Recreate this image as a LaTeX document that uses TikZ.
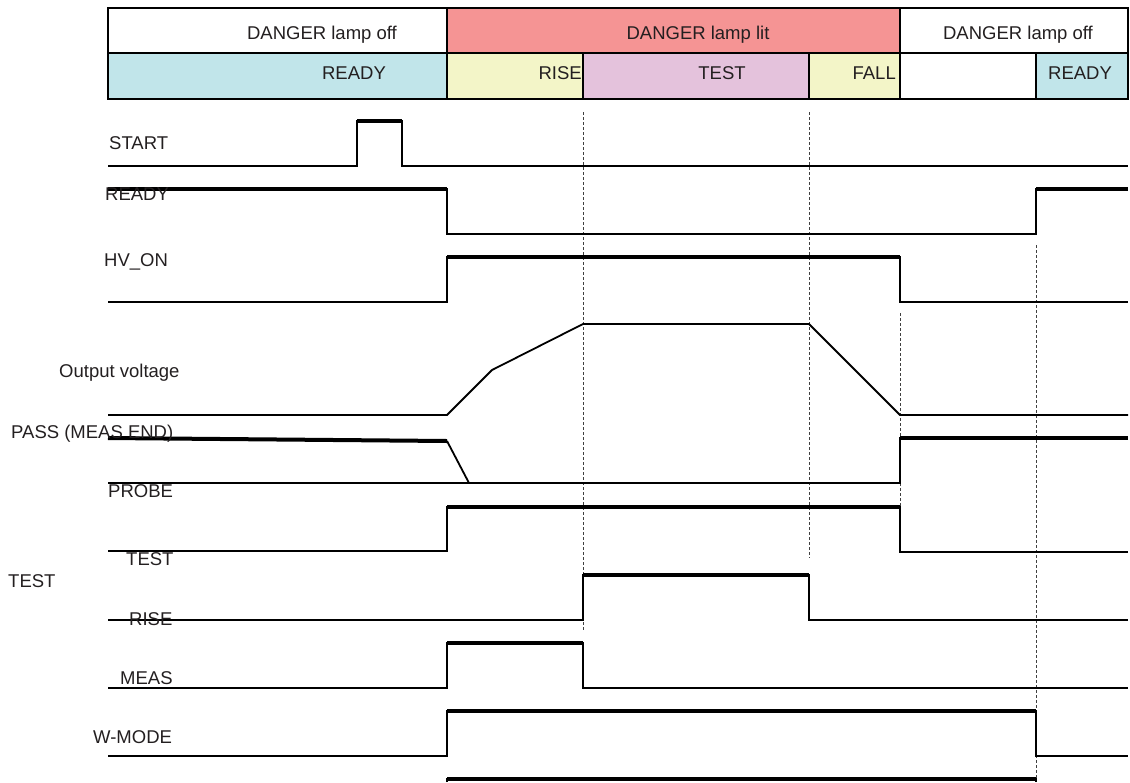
\documentclass[tikz,border=0pt]{standalone}
\usepackage{fontspec}
\setmainfont{Liberation Sans}
\definecolor{lampred}{HTML}{F59494}
\definecolor{readyblue}{HTML}{C1E5EA}
\definecolor{rampyellow}{HTML}{F3F5C8}
\definecolor{testpink}{HTML}{E4C2DC}
\definecolor{inkgray}{HTML}{231F20}

\begin{document}
\begin{tikzpicture}[
		x=1pt, y=-1pt,
		cell/.style={draw, line width=2pt},
		hdrtext/.style={font=\fontsize{18.5}{22}\selectfont, text=inkgray, anchor=base, inner sep=0pt},
		siglabel/.style={font=\fontsize{18.5}{22}\selectfont, text=inkgray, anchor=base west, inner sep=0pt},
		sig/.style={line width=1.8pt},
		hilevel/.style={line width=4pt},
		guide/.style={line width=0.8pt, black!75, dash pattern=on 3pt off 2pt}
	]

	\useasboundingbox (0,0) rectangle (1130,782);

	% Lamp state row
	\foreach \xa/\xb/\col in {
			108/447/white,
			447/900/lampred,
			900/1128/white} {
			\draw[cell, fill=\col] (\xa,8) rectangle (\xb,53);
		}

	% Phase row
	\foreach \xa/\xb/\col in {
			108/447/readyblue,
			447/583/rampyellow,
			583/809/testpink,
			809/900/rampyellow,
			900/1036/white,
			1036/1128/readyblue} {
			\draw[cell, fill=\col] (\xa,53) rectangle (\xb,99);
		}

	\node[hdrtext] (lampoffA) at (322,39) {DANGER lamp off};
	\node[hdrtext] (lamplit) at (698,39) {DANGER lamp lit};
	\node[hdrtext] (lampoffB) at (1018,39) {DANGER lamp off};
	\node[hdrtext] (phready) at (354,79) {READY};
	\node[hdrtext, anchor=base east] (phrise) at (582,79) {RISE};
	\node[hdrtext] (phtest) at (722,79) {TEST};
	\node[hdrtext, anchor=base east] (phfall) at (896,79) {FALL};
	\node[hdrtext] (phreadyB) at (1080,79) {READY};

	% Phase boundaries
	\foreach \x/\ya/\yb in {583/112/631, 809/112/558, 900/313/552, 1036/245/782}
		\draw[guide] (\x,\ya) -- (\x,\yb);

	% START
	\draw[sig] (108,166) -- (357,166) -- (357,121) -- (402,121) -- (402,166) -- (1128,166);
	\draw[hilevel] (357,121) -- (402,121);

	% READY
	\draw[sig] (108,189) -- (447,189) -- (447,234) -- (1036,234) -- (1036,189) -- (1128,189);
	\draw[hilevel] (108,189) -- (447,189);
	\draw[hilevel] (1036,189) -- (1128,189);

	% HV_ON
	\draw[sig] (108,302) -- (447,302) -- (447,257) -- (900,257) -- (900,302) -- (1128,302);
	\draw[hilevel] (447,257) -- (900,257);

	% Output voltage
	\draw[sig] (108,415) -- (447,415) -- (492,370) -- (583,324) -- (809,324) -- (900,415) -- (1128,415);

	% PASS (MEAS END)
	\draw[sig] (108,483) -- (900,483) -- (900,438) -- (1128,438);
	\draw[sig] (447,441) -- (469,483);
	\draw[hilevel] (108,438) -- (447,441);
	\draw[hilevel] (900,438) -- (1128,438);

	% PROBE
	\draw[sig] (108,551) -- (447,551) -- (447,507) -- (900,507) -- (900,552) -- (1128,552);
	\draw[hilevel] (447,507) -- (900,507);

	% TEST
	\draw[sig] (108,620) -- (583,620) -- (583,575) -- (809,575) -- (809,620) -- (1128,620);
	\draw[hilevel] (583,575) -- (809,575);

	% MEAS
	\draw[sig] (108,688) -- (447,688) -- (447,643) -- (583,643) -- (583,688) -- (1128,688);
	\draw[hilevel] (447,643) -- (583,643);

	% W-MODE
	\draw[sig] (108,756) -- (447,756) -- (447,711) -- (1036,711) -- (1036,756) -- (1128,756);
	\draw[hilevel] (447,711) -- (1036,711);

	% Next trace, cut off
	\draw[sig] (447,782) -- (447,779) -- (1036,779) -- (1036,782);
	\draw[hilevel] (447,779) -- (1036,779);

	% Signal names
	\node[siglabel] (lblstart) at (109,149) {START};
	\node[siglabel] (lblready) at (105,200) {READY};
	\node[siglabel] (lblhv) at (104,266) {HV\_ON};
	\node[siglabel] (lblvout) at (59,377) {Output voltage};
	\node[siglabel] (lblpass) at (11,438) {PASS (MEAS END)};
	\node[siglabel] (lblprobe) at (108,497) {PROBE};
	\node[siglabel] (lbltesta) at (126,565) {TEST};
	\node[siglabel] (lbltestb) at (8,587) {TEST};
	\node[siglabel] (lblrise) at (129,625) {RISE};
	\node[siglabel] (lblmeas) at (120,684) {MEAS};
	\node[siglabel] (lblwmode) at (93,743) {W-MODE};

\end{tikzpicture}
\end{document}
